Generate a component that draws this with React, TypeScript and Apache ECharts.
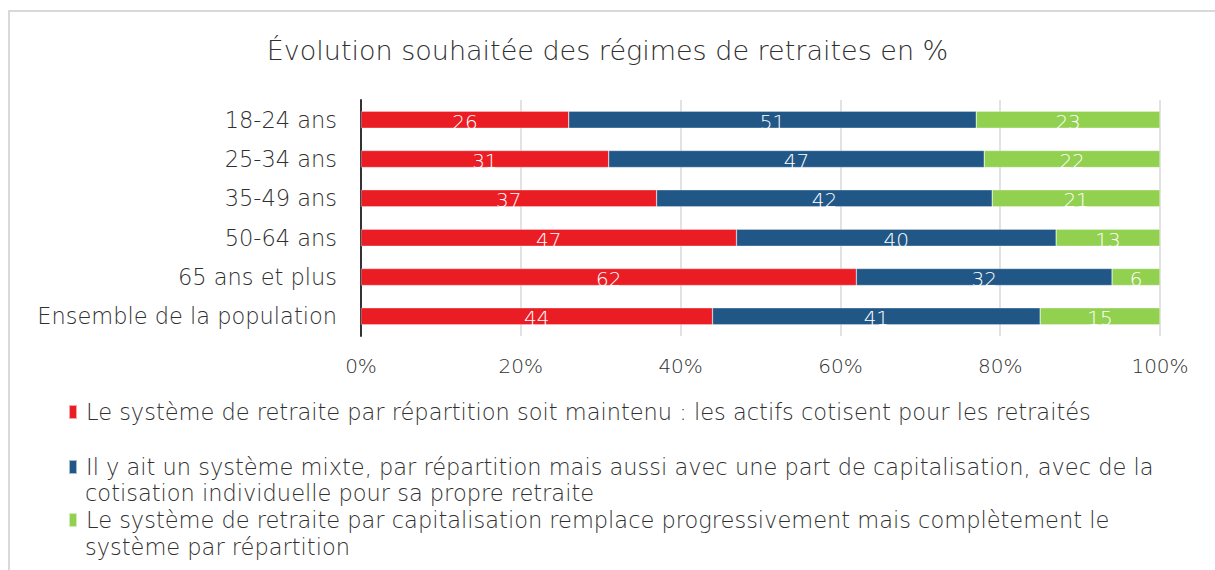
import React, { useEffect, useRef } from "react";
import * as echarts from "echarts";

const categories = [
  "18-24 ans",
  "25-34 ans",
  "35-49 ans",
  "50-64 ans",
  "65 ans et plus",
  "Ensemble de la population",
];
const seriesNames = [
  "Le système de retraite par répartition soit maintenu : les actifs cotisent pour les retraités",
  "Il y ait un système mixte, par répartition mais aussi avec une part de capitalisation, avec de la cotisation individuelle pour sa propre retraite",
  "Le système de retraite par capitalisation remplace progressivement mais complètement le système par répartition",
];
const legendFirstLines = [
  "Le système de retraite par répartition soit maintenu : les actifs cotisent pour les retraités",
  "Il y ait un système mixte, par répartition mais aussi avec une part de capitalisation, avec de la",
  "Le système de retraite par capitalisation remplace progressivement mais complètement le",
];
const legendSecondLines = ["", "cotisation individuelle pour sa propre retraite", "système par répartition"];
const repartition = [26, 31, 37, 47, 62, 44];
const mixte = [51, 47, 42, 40, 32, 41];
const capitalisation = [23, 22, 21, 13, 6, 15];
const xTicks = [0, 20, 40, 60, 80, 100];
const title = "Évolution souhaitée des régimes de retraites en %";

const colors = ["#EA1D25", "#215786", "#92D050"];
const FONT = "DejaVu Sans";
const W = 200;
const TEXT = "#303030";

export default function App() {
  const ref = useRef<HTMLDivElement>(null);
  useEffect(() => {
    if (!ref.current) return;
    const chart = echarts.init(ref.current, undefined, { renderer: "svg" });
    const values = [repartition, mixte, capitalisation];
    const firstCenters = [412, 467, 520];
    const secondCenters = [0, 493, 547];
    chart.setOption({
      animation: false,
      textStyle: { fontFamily: FONT },
      title: {
        text: title,
        left: "center",
        top: 32,
        textStyle: { fontFamily: FONT, fontSize: 27, fontWeight: W, color: TEXT },
      },
      graphic: [
        {
          type: "rect",
          shape: { x: 9, y: 11, width: 1400, height: 800 },
          style: { fill: "none", stroke: "#D9D9D9", lineWidth: 2 },
          silent: true,
        },
        ...legendSecondLines
          .map((t, i) => ({ t, i }))
          .filter((o) => o.t)
          .map((o) => ({
            type: "text",
            left: 85,
            top: secondCenters[o.i] - 13,
            silent: true,
            style: {
              text: o.t,
              fontFamily: FONT,
              fontSize: 22.5,
              fontWeight: W,
              fill: TEXT,
              lineHeight: 26,
            },
          })),
      ],
      legend: seriesNames.map((n, i) => ({
        data: [n],
        left: 68,
        top: firstCenters[i] - 13,
        padding: 0,
        orient: "vertical",
        icon: "rect",
        itemWidth: 8,
        itemHeight: 14,
        itemGap: 0,
        formatter: () => legendFirstLines[i],
        textStyle: { fontFamily: FONT, fontSize: 22.5, fontWeight: W, color: TEXT, lineHeight: 26, padding: [0, 0, 0, 4] },
        selectedMode: false,
      })),
      grid: { left: 361, right: 55, top: 100, height: 236, containLabel: false },
      xAxis: {
        type: "value",
        min: 0,
        max: 100,
        interval: 20,
        axisLabel: {
          formatter: (v: number) => (xTicks.includes(v) ? v + "%" : ""),
          fontFamily: FONT,
          fontSize: 20,
          fontWeight: W,
          color: TEXT,
          margin: 20,
        },
        axisLine: { show: false },
        axisTick: { show: false },
        splitLine: { lineStyle: { color: "#D9D9D9", width: 1.5 } },
      },
      yAxis: {
        type: "category",
        data: categories,
        inverse: true,
        axisLine: { show: true, lineStyle: { color: "#333333", width: 2 } },
        axisTick: { show: false },
        axisLabel: { fontFamily: FONT, fontSize: 22.5, fontWeight: W, color: TEXT, margin: 24 },
      },
      series: seriesNames.map((n, i) => ({
        name: n,
        type: "bar",
        stack: "total",
        data: values[i],
        barWidth: 17,
        itemStyle: { color: colors[i], borderColor: "rgba(255,255,255,0.6)", borderWidth: 0.5 },
        label: {
          show: true,
          position: "inside",
          color: "#FFFFFF",
          fontFamily: FONT,
          fontSize: 20,
          fontWeight: W,
          offset: [0, 2],
        },
      })),
    });
    return () => chart.dispose();
  }, []);
  return <div ref={ref} style={{ position: "absolute", left: 0, top: 0, width: 1215, height: 570 }} />;
}
